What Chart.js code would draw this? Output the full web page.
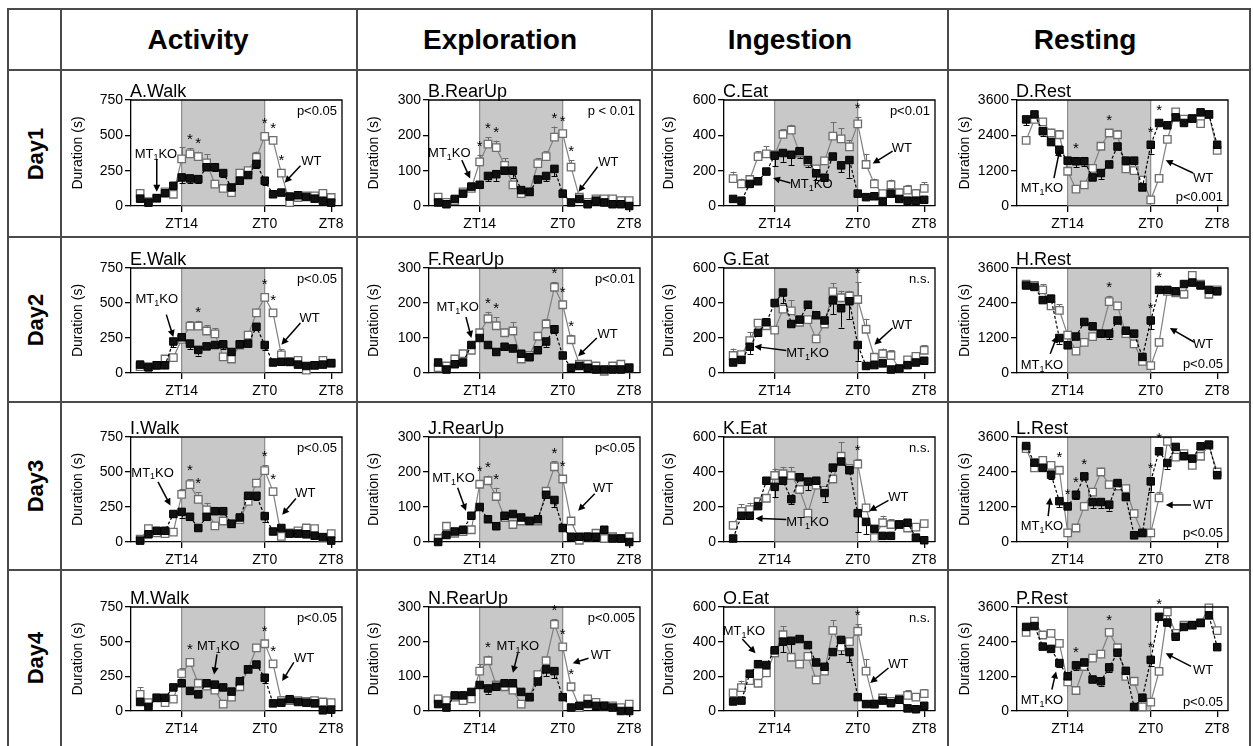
<!DOCTYPE html>
<html>
<head>
<meta charset="utf-8">
<script src="https://cdn.jsdelivr.net/npm/chart.js@4.4.1/dist/chart.umd.min.js"></script>
<style>
  body { margin: 0; background: #fff; width: 1253px; height: 746px; overflow: hidden; position: relative;
         font-family: "Liberation Sans", Arial, Helvetica, sans-serif; }
  .line { position: absolute; background: #4a4a4a; }
  .head { position: absolute; top: 9px; height: 61px; line-height: 61px; font-weight: bold; font-size: 28px;
          transform: translateX(-50%); white-space: nowrap; }
  .day { position: absolute; font-weight: bold; font-size: 22px; white-space: nowrap;
         transform: translate(-50%, -50%) rotate(-90deg); }
  canvas { position: absolute; }
</style>
</head>
<body>
<script>
// ---- data ----
const hours = [9, 10, 11, 12, 13, 14, 15, 16, 17, 18, 19, 20, 21, 22, 23, 24, 25, 26, 27, 28, 29, 30, 31, 32];
const xTickValues = [14, 24, 32];
const xTickLabels = ['ZT14', 'ZT0', 'ZT8'];
const darkPhase = [14, 24];

const categories = ['Activity', 'Exploration', 'Ingestion', 'Resting'];
const days = ['Day1', 'Day2', 'Day3', 'Day4'];
const panelTitles = [
  ['A.Walk', 'B.RearUp', 'C.Eat', 'D.Rest'],
  ['E.Walk', 'F.RearUp', 'G.Eat', 'H.Rest'],
  ['I.Walk', 'J.RearUp', 'K.Eat', 'L.Rest'],
  ['M.Walk', 'N.RearUp', 'O.Eat', 'P.Rest']
];
const yMax = [750, 300, 600, 3600];
const yStep = [250, 100, 200, 1200];
const pValues = [
  ['p<0.05', 'p < 0.01', 'p<0.01', 'p<0.001'],
  ['p<0.05', 'p<0.01', 'n.s.', 'p<0.05'],
  ['p<0.05', 'p<0.05', 'n.s.', 'p<0.05'],
  ['p<0.05', 'p<0.005', 'n.s.', 'p<0.05']
];

// duration (s) per hour bin, MT1KO and WT
const walkKO1 = [52, 24, 55, 90, 143, 202, 195, 190, 274, 274, 233, 131, 179, 219, 298, 179, 83, 95, 67, 76, 64, 52, 36, 24];
const walkWT1 = [90, 30, 55, 100, 83, 333, 369, 350, 305, 155, 124, 95, 233, 250, 345, 493, 464, 233, 24, 60, 71, 71, 90, 60];
const rearKO1 = [10, 5, 20, 35, 55, 60, 85, 90, 100, 100, 45, 40, 75, 85, 105, 35, 10, 20, 5, 15, 10, 5, 5, 0];
const rearWT1 = [25, 10, 15, 40, 50, 125, 175, 165, 115, 60, 35, 40, 120, 140, 195, 205, 110, 25, 10, 20, 20, 20, 15, 15];
const eatKO1 = [40, 30, 125, 140, 195, 285, 300, 290, 310, 260, 185, 160, 280, 230, 260, 70, 50, 55, 25, 70, 40, 30, 30, 35];
const eatWT1 = [155, 125, 150, 280, 295, 290, 405, 430, 300, 250, 210, 255, 395, 380, 335, 465, 235, 125, 70, 120, 75, 90, 70, 100];
const restKO1 = [2940, 3110, 2540, 2170, 1910, 1540, 1520, 1520, 970, 1120, 1410, 2020, 1540, 1540, 630, 2080, 2820, 2740, 3010, 2820, 2970, 3180, 3110, 2080];
const restWT1 = [2230, 2940, 2860, 2480, 2420, 1180, 570, 720, 1280, 2030, 2480, 2420, 1260, 1200, 880, 210, 940, 2260, 3200, 2950, 2970, 2800, 3110, 1890];

const walkKO2 = [60, 40, 55, 55, 225, 255, 210, 165, 190, 200, 205, 150, 205, 210, 330, 200, 75, 80, 80, 60, 50, 55, 60, 70];
const walkWT2 = [45, 45, 55, 100, 110, 240, 335, 335, 300, 280, 115, 100, 200, 270, 430, 540, 430, 130, 80, 90, 20, 55, 90, 70];
const rearKO2 = [30, 10, 25, 30, 80, 100, 80, 60, 75, 70, 55, 45, 65, 90, 125, 50, 15, 20, 15, 10, 10, 10, 10, 15];
const rearWT2 = [15, 20, 40, 55, 65, 115, 155, 135, 115, 120, 40, 50, 105, 140, 245, 195, 95, 25, 25, 20, 5, 20, 25, 15];
const eatKO2 = [60, 75, 150, 230, 290, 400, 460, 280, 305, 390, 330, 300, 415, 370, 410, 160, 40, 45, 55, 20, 25, 45, 60, 70];
const eatWT2 = [100, 105, 185, 285, 270, 245, 365, 355, 290, 305, 195, 280, 465, 430, 440, 420, 250, 90, 110, 100, 25, 75, 95, 130];
const restKO2 = [3000, 2950, 2500, 2550, 1200, 950, 1250, 1750, 1600, 1350, 1350, 1800, 1450, 1350, 550, 1800, 2850, 2850, 2800, 3050, 3100, 3000, 2850, 2800];
const restWT2 = [3050, 3000, 2850, 2300, 2150, 1300, 750, 1050, 1250, 1350, 2450, 2300, 1350, 1000, 400, 250, 1050, 2800, 2750, 2700, 3350, 3050, 2700, 2850];

const walkKO3 = [10, 55, 80, 80, 200, 215, 180, 100, 180, 220, 220, 130, 175, 330, 330, 185, 75, 100, 60, 60, 55, 45, 35, 10];
const walkWT3 = [20, 95, 65, 60, 70, 340, 410, 305, 230, 115, 150, 130, 160, 290, 420, 510, 360, 40, 65, 80, 100, 95, 30, 60];
const rearKO3 = [0, 20, 30, 35, 75, 100, 65, 45, 75, 80, 70, 60, 65, 135, 120, 40, 15, 15, 15, 15, 35, 10, 10, 0];
const rearWT3 = [10, 45, 25, 30, 35, 165, 175, 130, 70, 50, 60, 60, 60, 145, 215, 180, 60, 5, 15, 25, 10, 15, 10, 15];
const eatKO3 = [20, 150, 150, 205, 350, 315, 350, 245, 370, 345, 350, 280, 425, 460, 410, 165, 115, 75, 35, 35, 100, 110, 25, 10];
const eatWT3 = [95, 175, 185, 230, 250, 380, 390, 380, 300, 165, 325, 295, 360, 490, 420, 445, 195, 25, 110, 100, 100, 80, 85, 105];
const restKO3 = [3290, 2720, 2540, 2310, 1400, 1220, 1620, 2250, 1370, 1370, 1280, 2020, 1540, 230, 310, 2080, 3110, 2710, 3260, 2940, 2860, 3280, 3340, 2290];
const restWT3 = [3200, 2540, 2800, 2630, 2460, 310, 480, 1220, 1710, 2400, 1970, 1920, 1830, 970, 310, 310, 1510, 3450, 2910, 3030, 2630, 2940, 3310, 2400];

const walkKO4 = [65, 30, 95, 95, 170, 200, 145, 120, 200, 190, 170, 140, 215, 300, 335, 240, 55, 60, 85, 65, 60, 55, 5, 10];
const walkWT4 = [120, 60, 95, 60, 85, 270, 350, 200, 180, 150, 50, 100, 175, 300, 455, 485, 340, 75, 75, 75, 70, 75, 65, 60];
const rearKO4 = [20, 10, 45, 45, 55, 75, 65, 70, 80, 80, 55, 40, 85, 120, 115, 40, 10, 15, 20, 15, 15, 10, 0, 0];
const rearWT4 = [35, 30, 40, 30, 35, 115, 145, 75, 70, 60, 20, 40, 105, 145, 250, 185, 70, 10, 35, 25, 15, 15, 10, 20];
const eatKO4 = [55, 60, 215, 270, 265, 350, 400, 405, 415, 380, 280, 255, 340, 410, 340, 80, 40, 40, 60, 45, 65, 15, 10, 30];
const eatWT4 = [105, 135, 175, 160, 220, 335, 440, 310, 270, 315, 180, 230, 465, 370, 400, 460, 230, 40, 75, 55, 70, 90, 80, 100];
const restKO4 = [2910, 2940, 2230, 2150, 1660, 1200, 1580, 1680, 1090, 1030, 1510, 2020, 1390, 140, 460, 1770, 3260, 3060, 2570, 2910, 2970, 3050, 3310, 2210];
const restWT4 = [2720, 3110, 2630, 2690, 2340, 1010, 710, 1540, 1830, 1970, 2720, 2190, 1200, 1030, 140, 310, 1370, 3430, 2690, 2970, 2970, 3050, 3570, 2780];

// visible error bars (s): {hour-bin index: SEM}; WT bars point up, MT1KO bars point down
const walkErrWT1 = { 0: 15, 5: 85, 6: 40, 7: 35, 8: 60, 12: 20, 13: 15, 14: 40, 15: 20, 16: 15, 17: 30 };
const walkErrKO1 = { 5: 40, 6: 30, 7: 30, 9: 25, 10: 25, 11: 15, 14: 30, 15: 30 };
const rearErrWT1 = { 5: 20, 6: 20, 7: 20, 8: 20, 12: 15, 13: 15, 14: 30, 15: 10, 16: 20 };
const rearErrKO1 = { 6: 15, 7: 20, 9: 20, 13: 15, 14: 20 };
const eatErrWT1 = { 0: 40, 1: 30, 3: 30, 4: 45, 6: 30, 7: 30, 9: 30, 12: 80, 13: 60, 14: 40, 15: 40, 16: 60, 17: 30, 19: 30, 21: 30, 22: 25, 23: 35 };
const eatErrKO1 = { 5: 60, 6: 50, 7: 60, 8: 40, 9: 40, 10: 40, 13: 40, 14: 100 };
const restErrWT1 = { 3: 150, 4: 150, 9: 100, 10: 100, 11: 150, 14: 100, 16: 100 };
const restErrKO1 = { 0: 200, 2: 150, 6: 200, 7: 150, 9: 200, 15: 300, 17: 100 };

const walkErrWT2 = { 6: 35, 7: 40, 8: 40, 9: 40, 14: 30, 15: 30, 16: 25, 17: 40 };
const walkErrKO2 = { 4: 40, 6: 40, 7: 40, 10: 35, 15: 35 };
const rearErrWT2 = { 6: 20, 7: 25, 9: 25, 13: 15, 14: 15, 15: 10, 16: 15 };
const rearErrKO2 = { 13: 15, 14: 10 };
const eatErrWT2 = { 0: 40, 2: 50, 4: 40, 7: 60, 12: 50, 13: 40, 14: 30, 15: 100, 16: 60, 18: 30, 19: 30, 23: 30 };
const eatErrKO2 = { 2: 40, 6: 60, 12: 80, 13: 110, 14: 100, 15: 90 };
const restErrWT2 = { 2: 200, 4: 200, 10: 200, 11: 100, 16: 150 };
const restErrKO2 = { 4: 200, 10: 200, 12: 200, 15: 300 };

const walkErrWT3 = { 5: 40, 6: 40, 7: 50, 8: 50, 15: 40, 16: 25 };
const walkErrKO3 = { 5: 40, 14: 30, 15: 40 };
const rearErrWT3 = { 5: 10, 6: 15, 7: 25, 13: 10, 14: 15, 15: 10 };
const rearErrKO3 = { 14: 20, 20: 15 };
const eatErrWT3 = { 1: 40, 2: 40, 5: 40, 6: 40, 7: 50, 13: 80, 15: 30, 18: 40, 19: 30 };
const eatErrKO3 = { 5: 60, 7: 30, 9: 50, 11: 50, 15: 110, 16: 70 };
const restErrWT3 = { 3: 100, 4: 100, 8: 100, 9: 150, 10: 100, 11: 100, 16: 200 };
const restErrKO3 = { 3: 150, 4: 200, 6: 150, 8: 200, 9: 200, 10: 200, 15: 350, 17: 200 };

const walkErrWT4 = { 0: 50, 5: 40, 6: 30, 15: 20, 17: 30 };
const walkErrKO4 = { 15: 40 };
const rearErrWT4 = { 5: 20, 6: 15, 14: 15 };
const rearErrKO4 = { 6: 15, 13: 20, 14: 20 };
const eatErrWT4 = { 1: 40, 5: 40, 6: 50, 12: 60, 13: 50, 15: 40, 16: 70, 21: 30, 23: 25 };
const eatErrKO4 = { 6: 60, 7: 80, 13: 80, 14: 60 };
const restErrWT4 = { 3: 100, 7: 150, 8: 150, 16: 150 };
const restErrKO4 = { 4: 150, 6: 150, 8: 100, 9: 150, 10: 150, 15: 200 };

// indices of hour bins marked with an asterisk
const stars = [
  [[6, 7, 15, 16, 17], [5, 6, 7, 14, 15, 16], [15], [6, 10, 15, 16]],
  [[7, 15, 16], [6, 7, 14, 15, 16], [15], [10, 15, 16]],
  [[6, 7, 15, 16], [5, 6, 7, 14, 15], [15], [4, 5, 6, 7, 15, 16]],
  [[6, 15, 16], [6, 14, 15, 16], [15], [6, 10, 15, 16]]
];

const koGrid = [
  [walkKO1, rearKO1, eatKO1, restKO1],
  [walkKO2, rearKO2, eatKO2, restKO2],
  [walkKO3, rearKO3, eatKO3, restKO3],
  [walkKO4, rearKO4, eatKO4, restKO4]
];
const wtGrid = [
  [walkWT1, rearWT1, eatWT1, restWT1],
  [walkWT2, rearWT2, eatWT2, restWT2],
  [walkWT3, rearWT3, eatWT3, restWT3],
  [walkWT4, rearWT4, eatWT4, restWT4]
];
const errKOGrid = [
  [walkErrKO1, rearErrKO1, eatErrKO1, restErrKO1],
  [walkErrKO2, rearErrKO2, eatErrKO2, restErrKO2],
  [walkErrKO3, rearErrKO3, eatErrKO3, restErrKO3],
  [walkErrKO4, rearErrKO4, eatErrKO4, restErrKO4]
];
const errWTGrid = [
  [walkErrWT1, rearErrWT1, eatErrWT1, restErrWT1],
  [walkErrWT2, rearErrWT2, eatErrWT2, restErrWT2],
  [walkErrWT3, rearErrWT3, eatErrWT3, restErrWT3],
  [walkErrWT4, rearErrWT4, eatErrWT4, restErrWT4]
];

// ---- annotations: [labelHour, labelValue, arrowFromHour, arrowFromValue, arrowToHour, arrowToValue] ----
const koNotes = [
  [[10.9, 368, 11, 330, 11, 100], [10.35, 149, 11.85, 130, 12.85, 78], [18.4, 120, 15.9, 130, 13.8, 158], [10.9, 606, 12.35, 950, 13.05, 1920]],
  [[11, 523, 12.15, 417, 13.0, 257], [11.35, 186, 12.35, 160, 13.0, 100], [17.95, 110, 15.4, 128, 11.55, 152], [10.9, 251, 11.9, 663, 12.75, 1280]],
  [[10.5, 493, 11.15, 430, 12.65, 260], [10.85, 182, 11.35, 155, 12.35, 89], [17.95, 110, 15.4, 129, 11.7, 135], [10.9, 542, 11.65, 888, 11.9, 1523]],
  [[18.4, 464, 18.25, 409, 17.9, 264], [18.6, 186, 18.6, 167, 18.0, 110], [10.3, 457, 10.1, 415, 11.7, 333], [10.9, 366, 12.1, 743, 12.6, 1371]]
];
const wtNotes = [
  [[29.6, 314, 28.3, 285, 26.4, 165], [29.5, 124, 28.2, 111, 25.9, 40], [29.3, 325, 28.2, 310, 25.8, 240], [30.3, 950, 29.1, 1120, 25.8, 1555]],
  [[29.4, 393, 28.3, 357, 26.0, 202], [29.4, 110, 28.1, 100, 25.85, 48], [29.35, 272, 28.2, 257, 26.0, 162], [30.3, 971, 29.2, 1063, 26.3, 1543]],
  [[28.9, 347, 27.75, 311, 26.1, 194], [28.85, 152, 27.85, 138, 25.85, 89], [28.9, 254, 27.7, 238, 25.4, 177], [30.3, 1258, 28.85, 1270, 25.8, 1270]],
  [[28.75, 380, 27.5, 351, 26.1, 216], [28.6, 160, 27.1, 152, 25.2, 138], [28.9, 267, 27.7, 248, 25.5, 162], [30.3, 1394, 28.85, 1543, 25.8, 2000]]
];

// ---- layout ----
const FONT = '"Liberation Sans", Arial, Helvetica, sans-serif';
const colLeft = [61, 357, 652, 948];
const colRight = [357, 652, 948, 1250];
const rowTop = [70, 237, 402, 570];
const rowBottom = [237, 402, 570, 746];
const plotLeft = [131, 429, 724, 1017];
const plotW = 211;
const plotTop = [100, 268, 437, 607];
const plotBottom = [206, 373, 542, 711];
const X_MIN = 7.9, X_MAX = 33.3;
const Y_AXIS_W = 46, X_AXIS_H = 24;

function addLine(x, y, w, h) {
  const d = document.createElement('div');
  d.className = 'line';
  Object.assign(d.style, { left: x + 'px', top: y + 'px', width: w + 'px', height: h + 'px' });
  document.body.appendChild(d);
}
[9, 70, 237, 402, 570].forEach(y => addLine(8, y - 1, 1243, 2));
[8, 61, 357, 652, 948, 1250].forEach(x => addLine(x - 1, 8, 2, 738));

const headX = [198, 500, 790, 1085];
categories.forEach((t, i) => {
  const d = document.createElement('div');
  d.className = 'head';
  d.style.left = headX[i] + 'px';
  d.textContent = t;
  document.body.appendChild(d);
});
days.forEach((t, i) => {
  const d = document.createElement('div');
  d.className = 'day';
  d.style.left = '36px';
  d.style.top = ((rowTop[i] + rowBottom[i]) / 2) + 'px';
  d.textContent = t;
  document.body.appendChild(d);
});

function drawArrow(ctx, x1, y1, x2, y2) {
  const ang = Math.atan2(y2 - y1, x2 - x1);
  const L = 7, W = 3.5;
  ctx.beginPath();
  ctx.moveTo(x1, y1);
  ctx.lineTo(x2 - Math.cos(ang) * L * 0.8, y2 - Math.sin(ang) * L * 0.8);
  ctx.stroke();
  ctx.beginPath();
  ctx.moveTo(x2, y2);
  ctx.lineTo(x2 - Math.cos(ang) * L + Math.sin(ang) * W, y2 - Math.sin(ang) * L - Math.cos(ang) * W);
  ctx.lineTo(x2 - Math.cos(ang) * L - Math.sin(ang) * W, y2 - Math.sin(ang) * L + Math.cos(ang) * W);
  ctx.closePath();
  ctx.fill();
}

function drawErrors(ctx, x, y, vals, errs, dir, color) {
  ctx.strokeStyle = color;
  ctx.lineWidth = 1;
  Object.keys(errs).forEach(k => {
    const i = +k;
    const px = Math.round(x.getPixelForValue(hours[i])) + 0.5;
    const p0 = y.getPixelForValue(vals[i]);
    const p1 = y.getPixelForValue(vals[i] + dir * errs[k]);
    ctx.beginPath();
    ctx.moveTo(px, p0); ctx.lineTo(px, p1);
    ctx.moveTo(px - 3, Math.round(p1) + 0.5); ctx.lineTo(px + 3, Math.round(p1) + 0.5);
    ctx.stroke();
  });
}

const panelDecor = {
  id: 'panelDecor',
  beforeDatasetsDraw(chart, args, o) {
    const { ctx, chartArea: a, scales: { x, y } } = chart;
    const x0 = x.getPixelForValue(darkPhase[0]), x1 = x.getPixelForValue(darkPhase[1]);
    ctx.save();
    ctx.fillStyle = '#c8c8c8';
    ctx.fillRect(x0, a.top, x1 - x0, a.bottom - a.top - 0.5);
    ctx.strokeStyle = '#7a7a7a';
    ctx.lineWidth = 1;
    ctx.beginPath();
    ctx.moveTo(x0, a.top); ctx.lineTo(x0, a.bottom);
    ctx.moveTo(x1, a.top); ctx.lineTo(x1, a.bottom);
    ctx.stroke();
    drawErrors(ctx, x, y, o.ko, o.errKO, -1, '#000');
    drawErrors(ctx, x, y, o.wt, o.errWT, 1, '#6e6e6e');
    ctx.restore();
  },
  afterDraw(chart, args, o) {
    const { ctx, chartArea: a, scales: { x, y } } = chart;
    ctx.save();
    // frame top / right
    ctx.strokeStyle = '#000';
    ctx.lineWidth = 1.3;
    ctx.beginPath();
    ctx.moveTo(a.left, a.top); ctx.lineTo(a.right, a.top); ctx.lineTo(a.right, a.bottom);
    ctx.stroke();

    ctx.fillStyle = '#000';
    // panel title
    ctx.font = '18px ' + FONT;
    ctx.textAlign = 'left';
    ctx.textBaseline = 'alphabetic';
    ctx.fillText(o.title, a.left - 1, a.top - 3);

    // y axis title
    ctx.save();
    ctx.translate(17, (a.top + a.bottom) / 2);
    ctx.rotate(-Math.PI / 2);
    ctx.font = '14px ' + FONT;
    ctx.textAlign = 'center';
    ctx.textBaseline = 'middle';
    ctx.fillText('Duration (s)', 0, 0);
    ctx.restore();

    // p value
    ctx.font = '13px ' + FONT;
    ctx.textAlign = 'right';
    ctx.textBaseline = 'middle';
    ctx.fillText(o.p, a.right - 5, o.pBottom ? a.bottom - 9 : a.top + 11);

    // asterisks, above the upper point and its error bar
    ctx.font = '15px ' + FONT;
    ctx.textAlign = 'center';
    ctx.textBaseline = 'middle';
    o.stars.forEach(i => {
      const px = x.getPixelForValue(hours[i]);
      const top = Math.max(o.ko[i], o.wt[i] + (o.errWT[i] || 0));
      const py = Math.min(y.getPixelForValue(top) - 4, y.getPixelForValue(Math.max(o.ko[i], o.wt[i])) - 8) - 4;
      ctx.fillText('*', px, py);
    });

    // arrows
    ctx.strokeStyle = '#000';
    ctx.lineWidth = 1.5;
    [o.koNote, o.wtNote].forEach(n => {
      drawArrow(ctx, x.getPixelForValue(n[2]), y.getPixelForValue(n[3]), x.getPixelForValue(n[4]), y.getPixelForValue(n[5]));
    });

    // MT1KO label
    const kx = x.getPixelForValue(o.koNote[0]), ky = y.getPixelForValue(o.koNote[1]);
    ctx.textAlign = 'left';
    ctx.textBaseline = 'middle';
    ctx.font = '13px ' + FONT;
    const wMT = ctx.measureText('MT').width, wKO = ctx.measureText('KO').width;
    ctx.font = '9px ' + FONT;
    const w1 = ctx.measureText('1').width;
    const sx = kx - (wMT + w1 + wKO) / 2;
    ctx.font = '13px ' + FONT;
    ctx.fillText('MT', sx, ky);
    ctx.font = '9px ' + FONT;
    ctx.fillText('1', sx + wMT, ky + 4);
    ctx.font = '13px ' + FONT;
    ctx.fillText('KO', sx + wMT + w1, ky);

    // WT label
    ctx.textAlign = 'center';
    ctx.fillText('WT', x.getPixelForValue(o.wtNote[0]), y.getPixelForValue(o.wtNote[1]));
    ctx.restore();
  }
};

for (let r = 0; r < 4; r++) {
  for (let c = 0; c < 4; c++) {
    const cw = colRight[c] - colLeft[c], ch = rowBottom[r] - rowTop[r];
    const canvas = document.createElement('canvas');
    canvas.width = cw; canvas.height = ch;
    canvas.style.left = colLeft[c] + 'px';
    canvas.style.top = rowTop[r] + 'px';
    canvas.style.width = cw + 'px';
    canvas.style.height = ch + 'px';
    document.body.appendChild(canvas);

    const ko = koGrid[r][c], wt = wtGrid[r][c];
    const tickFont = { size: 14, family: FONT };
    new Chart(canvas, {
      type: 'line',
      data: {
        datasets: [
          {
            label: 'MT1KO',
            data: hours.map((h, i) => ({ x: h, y: ko[i] })),
            borderColor: '#000', borderWidth: 1.2, borderDash: [3, 2],
            pointStyle: 'rect', pointRadius: 5.3, pointBackgroundColor: '#111',
            pointBorderColor: '#000', pointBorderWidth: 1, clip: false
          },
          {
            label: 'WT',
            data: hours.map((h, i) => ({ x: h, y: wt[i] })),
            borderColor: '#808080', borderWidth: 1.2,
            pointStyle: 'rect', pointRadius: 5.3, pointBackgroundColor: '#fff',
            pointBorderColor: '#6e6e6e', pointBorderWidth: 1.3, clip: false
          }
        ]
      },
      options: {
        responsive: false,
        animation: false,
        devicePixelRatio: 1,
        layout: {
          padding: {
            left: plotLeft[c] - colLeft[c] - Y_AXIS_W,
            right: colRight[c] - (plotLeft[c] + plotW),
            top: plotTop[r] - rowTop[r],
            bottom: ch - (plotBottom[r] - rowTop[r]) - X_AXIS_H
          }
        },
        plugins: {
          legend: { display: false },
          tooltip: { enabled: false },
          panelDecor: {
            title: panelTitles[r][c], p: pValues[r][c], pBottom: c === 3,
            stars: stars[r][c], ko: ko, wt: wt, errKO: errKOGrid[r][c], errWT: errWTGrid[r][c],
            koNote: koNotes[r][c], wtNote: wtNotes[r][c]
          }
        },
        scales: {
          x: {
            type: 'linear', min: X_MIN, max: X_MAX,
            afterBuildTicks: s => { s.ticks = xTickValues.map(v => ({ value: v })); },
            afterFit: s => { s.height = X_AXIS_H; },
            ticks: {
              autoSkip: false, maxRotation: 0, color: '#000', font: tickFont, padding: 4,
              callback: v => xTickLabels[xTickValues.indexOf(v)]
            },
            grid: { drawOnChartArea: false, tickLength: 6, color: '#000', lineWidth: 1.3 },
            border: { color: '#000', width: 1.3 }
          },
          y: {
            min: 0, max: yMax[c],
            afterFit: s => { s.width = Y_AXIS_W; },
            ticks: { stepSize: yStep[c], color: '#000', font: tickFont, padding: 2, callback: v => String(v) },
            grid: { drawOnChartArea: false, tickLength: 6, color: '#000', lineWidth: 1.3 },
            border: { color: '#000', width: 1.3 }
          }
        }
      },
      plugins: [panelDecor]
    });
  }
}
</script>
</body>
</html>
